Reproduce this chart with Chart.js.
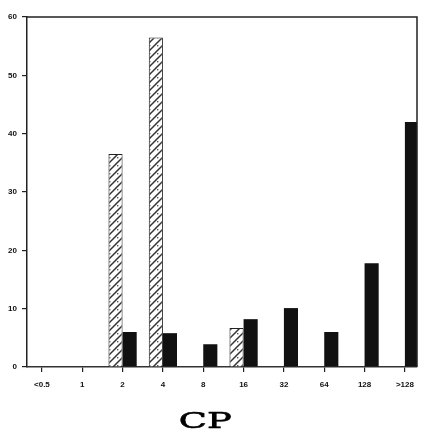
<!DOCTYPE html>
<html>
<head>
<meta charset="utf-8">
<script src="https://cdn.jsdelivr.net/npm/chart.js@4.4.1/dist/chart.umd.min.js"></script>
<style>
  html, body { margin: 0; padding: 0; background: #fff; }
  #wrap { width: 433px; height: 437px; }
</style>
</head>
<body>
<div id="wrap"><canvas id="cp-chart" width="433" height="437"></canvas></div>
<script>
// MIC classes along the x axis
const categories = ['<0.5', '1', '2', '4', '8', '16', '32', '64', '128', '>128'];
// hatched series (left bar of each pair) and solid series (right bar)
const hatchedValues = [null, null, 36.5, 56.5, null, 6.7, null, null, null, null];
const solidValues = [null, null, 6.0, 5.8, 3.9, 8.2, 10.1, 6.0, 17.8, 42];
const yMax = 60;
const yStep = 10;
const axisTitle = 'CP';

function hatchPattern() {
  const c = document.createElement('canvas');
  c.width = 8;
  c.height = 8;
  const g = c.getContext('2d');
  g.fillStyle = '#fff';
  g.fillRect(0, 0, 8, 8);
  g.strokeStyle = '#333';
  g.lineWidth = 1.5;
  g.beginPath();
  g.moveTo(0, 8); g.lineTo(8, 0);
  g.moveTo(-1, 1); g.lineTo(1, -1);
  g.moveTo(7, 9); g.lineTo(9, 7);
  g.stroke();
  g.fillStyle = '#555';
  g.fillRect(5, 5, 1.4, 1.4);
  return g.createPattern(c, 'repeat');
}

const toPoints = vals => vals.map((v, i) => ({ x: i, y: v }));

// top and right edges of the plot box
const framePlugin = {
  id: 'frame',
  afterDatasetsDraw(chart) {
    const { ctx, chartArea: a } = chart;
    ctx.save();
    ctx.strokeStyle = '#222';
    ctx.lineWidth = 1.5;
    ctx.beginPath();
    ctx.moveTo(a.left, a.top);
    ctx.lineTo(a.right, a.top);
    ctx.lineTo(a.right, a.bottom);
    ctx.stroke();
    ctx.restore();
  }
};

// wide serif axis title under the tick labels
const titlePlugin = {
  id: 'wideTitle',
  afterDraw(chart) {
    const { ctx } = chart;
    const x = chart.scales.x.getPixelForValue(4.05);
    ctx.save();
    ctx.translate(x, 428);
    ctx.scale(1.6, 1);
    ctx.font = '23px "DejaVu Serif"';
    ctx.fillStyle = '#000';
    ctx.strokeStyle = '#000';
    ctx.lineWidth = 0.6;
    ctx.textAlign = 'center';
    ctx.textBaseline = 'alphabetic';
    ctx.fillText(axisTitle, 0, 0);
    ctx.strokeText(axisTitle, 0, 0);
    ctx.restore();
  }
};

const tickFont = { family: 'Liberation Sans', size: 8, weight: 'bold' };

new Chart(document.getElementById('cp-chart'), {
  type: 'bar',
  data: {
    datasets: [
      {
        data: toPoints(hatchedValues),
        backgroundColor: hatchPattern(),
        borderColor: '#222',
        borderWidth: 1
      },
      {
        data: toPoints(solidValues),
        backgroundColor: '#111',
        borderColor: '#111',
        borderWidth: 0
      }
    ]
  },
  plugins: [framePlugin, titlePlugin],
  options: {
    responsive: false,
    animation: false,
    layout: { padding: { top: 17, right: 16, left: 0, bottom: 0 } },
    datasets: { bar: { categoryPercentage: 0.7, barPercentage: 1 } },
    plugins: { legend: { display: false }, tooltip: { enabled: false } },
    scales: {
      x: {
        type: 'linear',
        min: -0.37,
        max: 9.3,
        offset: false,
        afterFit: s => { s.height = 70; },
        grid: { drawOnChartArea: false, offset: false, tickLength: 5, color: '#222', lineWidth: 1.2 },
        border: { color: '#333', width: 1.5 },
        ticks: {
          stepSize: 1,
          includeBounds: false,
          autoSkip: false,
          maxRotation: 0,
          padding: 8,
          color: '#111',
          font: tickFont,
          callback: v => Number.isInteger(v) ? categories[v] : ''
        }
      },
      y: {
        min: 0,
        max: yMax,
        afterFit: s => { s.width = 27; },
        grid: { drawOnChartArea: false, tickLength: 5, color: '#222', lineWidth: 1.2 },
        border: { color: '#222', width: 1.5 },
        ticks: { stepSize: yStep, padding: 5, color: '#111', font: tickFont }
      }
    }
  }
});
</script>
</body>
</html>
